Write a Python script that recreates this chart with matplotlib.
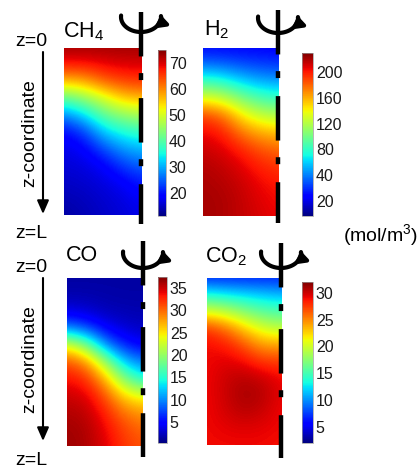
import numpy as np
import matplotlib
matplotlib.use('Agg')
import matplotlib.pyplot as plt
from matplotlib.patches import FancyArrowPatch
from matplotlib.path import Path

plt.rcParams['font.family'] = ['Liberation Sans', 'DejaVu Sans']
plt.rcParams['mathtext.default'] = 'regular'
plt.rcParams['lines.scale_dashes'] = False

# grid of the cross-section: r (left = wall, right = axis), z (top = inlet)
r_levels = [0.0, 0.25, 0.5, 0.75, 1.0]
z_levels = [0.0, 0.1, 0.2, 0.3, 0.4, 0.5, 0.6, 0.7, 0.8, 0.9, 1.0]

# concentrations (mol/m3), one row per z level, one column per r level
ch4_field = [
    [73, 73, 73, 73, 73],
    [68, 68, 69, 70, 70],
    [57, 58, 63, 65, 66],
    [41, 45, 50, 56, 57],
    [28, 33, 41, 45, 47],
    [19, 23, 32, 36, 38],
    [17, 18, 24, 29, 31],
    [16, 16.5, 18, 23, 25.5],
    [15, 15.5, 16.5, 18, 21],
    [14, 14.5, 15.5, 16.5, 18],
    [13, 14, 15, 16, 17],
]
h2_field = [
    [8, 8, 7, 7, 6],
    [37, 34, 28, 24, 22],
    [85, 78, 62, 52, 48],
    [135, 128, 105, 88, 82],
    [190, 178, 145, 125, 118],
    [205, 200, 175, 160, 155],
    [213, 209, 198, 185, 178],
    [218, 215, 208, 198, 193],
    [220, 218, 213, 205, 200],
    [221, 220, 215, 208, 204],
    [221, 220, 215, 210, 206],
]
co_field = [
    [1.5, 1.5, 1.5, 1.5, 1.5],
    [1.8, 1.8, 1.7, 1.6, 1.6],
    [3.5, 3.0, 2.2, 2.0, 1.9],
    [9.6, 7.5, 4.5, 3.0, 2.5],
    [23.5, 19, 10, 6, 4.2],
    [31, 28.5, 20.5, 12, 9.5],
    [33.5, 32.5, 27, 19, 14.3],
    [35, 34.5, 31, 25.5, 23.5],
    [35.8, 35.5, 33, 29.5, 28],
    [36.3, 36, 34, 31.5, 30],
    [36.5, 36, 34.5, 32, 31],
]
co2_field = [
    [6.5, 6.5, 6.5, 6.5, 6.5],
    [13.3, 12.5, 12, 11.5, 11],
    [20, 19, 17, 15.5, 15],
    [27.5, 25.5, 22.5, 20, 19],
    [29, 28.5, 26.5, 24, 24],
    [29, 29.5, 29, 27.5, 27.5],
    [29, 30, 30.5, 30, 29],
    [29, 30, 31, 30.5, 29.2],
    [29, 29.8, 30.5, 30, 29],
    [29, 29.3, 29.5, 29.3, 29],
    [29, 29, 29, 29, 28.8],
]

ch4_range = (11, 75)
h2_range = (-24, 230)
co_range = (0.3, 37.5)
co2_range = (2, 32)

ch4_ticks = [20, 30, 40, 50, 60, 70]
h2_ticks = [0, 40, 80, 120, 160, 200]
h2_tick_labels = ['20', '40', '80', '120', '160', '200']
co_ticks = [5, 10, 15, 20, 25, 30, 35]
co2_ticks = [5, 10, 15, 20, 25, 30]

W, H = 419, 469
fig = plt.figure(figsize=(W / 100, H / 100), dpi=100)


def px_rect(x0, y0, x1, y1):
    return [x0 / W, 1 - y1 / H, (x1 - x0) / W, (y1 - y0) / H]


panels = [
    # title, field, range, ticks, labels, image box, colorbar box, title xy
    ('$CH_4$', ch4_field, ch4_range, ch4_ticks, None,
     (64, 48, 141, 215), (158, 50, 166, 216), (63, 37)),
    ('$H_2$', h2_field, h2_range, h2_ticks, h2_tick_labels,
     (203, 48, 278, 216), (302, 53, 313, 216), (204, 35)),
    ('CO', co_field, co_range, co_ticks, None,
     (67, 278, 143, 446), (158, 277, 167, 443), (66, 261)),
    ('$CO_2$', co2_field, co2_range, co2_ticks, None,
     (207, 278, 281, 445), (302, 282, 313, 443), (205, 262)),
]

# half a grid step beyond the outer nodes, so pixel centres sit on the nodes
dr = (r_levels[1] - r_levels[0]) / 2
dz = (z_levels[1] - z_levels[0]) / 2
extent = (r_levels[0] - dr, r_levels[-1] + dr, z_levels[-1] + dz, z_levels[0] - dz)

for title, field, (vmin, vmax), ticks, labels, box, cbox, txy in panels:
    ax = fig.add_axes(px_rect(*box))
    m = ax.imshow(np.array(field), cmap='jet', vmin=vmin, vmax=vmax,
                  extent=extent, aspect='auto', interpolation='bicubic',
                  interpolation_stage='data')
    ax.set_xlim(0, 1)
    ax.set_ylim(1, 0)
    ax.axis('off')
    cax = fig.add_axes(px_rect(*cbox))
    cb = fig.colorbar(m, cax=cax, ticks=ticks)
    if labels:
        cb.set_ticklabels(labels)
    cb.outline.set_linewidth(0.5)
    cb.outline.set_edgecolor('0.6')
    cax.tick_params(length=0, labelsize=11.5, pad=2, labelcolor='0.1')

# overlay in pixel coordinates for the annotations
ov = fig.add_axes([0, 0, 1, 1], zorder=10)
ov.set_xlim(0, W)
ov.set_ylim(H, 0)
ov.axis('off')
ov.patch.set_alpha(0)

for title, field, rng, ticks, labels, box, cbox, (tx, ty) in panels:
    ov.text(tx, ty, title, fontsize=15.5, va='baseline', ha='left')

# rotation axis: dash-dot line with a curved arrow on top
axes_lines = [(141, 12, 224, 17), (278, 10, 223, 18),
              (143, 241, 457, 253), (281, 243, 458, 253)]
for x, y0, y1, cy in axes_lines:
    ov.plot([x, x], [y0, y1], color='k', lw=3.2, dashes=(32, 12, 5, 13),
            dash_capstyle='butt', solid_capstyle='butt')
    th = np.linspace(np.pi + 0.1, -0.15, 40)
    verts = np.column_stack([x + 20 * np.cos(th), cy + 15 * np.sin(th)])
    arc = FancyArrowPatch(path=Path(verts),
                          arrowstyle='-|>,head_length=5,head_width=3.5',
                          mutation_scale=1, lw=3, color='k')
    ov.add_patch(arc)

# z-coordinate annotation on the left
for top, bot in [(0, 0), (226, 227)]:
    ov.text(15, 46 + top, 'z=0', fontsize=14, va='baseline', ha='left')
    ov.text(15, 238 + bot, 'z=L', fontsize=14, va='baseline', ha='left')
    ov.add_patch(FancyArrowPatch((43, 52 + top), (43, 214 + bot),
                                 arrowstyle='-|>,head_length=8,head_width=3.5',
                                 mutation_scale=1, lw=1.5, color='k',
                                 shrinkA=0, shrinkB=0))
    ov.text(30, (52 + 214) / 2 + (top + bot) / 2, 'z-coordinate', fontsize=14,
            rotation=90, va='center', ha='center')

ov.text(418, 241, '(mol/m$^3$)', fontsize=14, va='baseline', ha='right')

fig.savefig('out.png', dpi=100)
